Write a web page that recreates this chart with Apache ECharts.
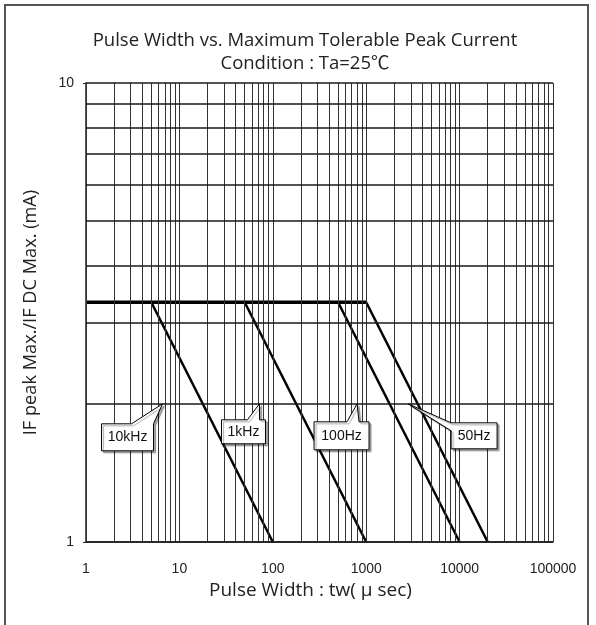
<!DOCTYPE html>
<html>
<head>
<meta charset="utf-8">
<script src="https://cdn.jsdelivr.net/npm/echarts@6/dist/echarts.min.js"></script>
<style>
html, body { margin: 0; padding: 0; background: #fff; }
#wrap { position: relative; width: 596px; height: 625px; overflow: hidden; }
#chart { width: 596px; height: 625px; }
/* outer frame of the figure */
#frame { position: absolute; left: 4px; top: 4px; width: 581px; height: 660px; border: 2px solid #555; pointer-events: none; }
</style>
</head>
<body>
<div id="wrap">
  <div id="chart"></div>
  <div id="frame"></div>
</div>
<script>
// data
const topLevel = 3.33;
const flatLine = [[1, topLevel], [1000, topLevel]];
const line10kHz = [[5, topLevel], [100, 1]];
const line1kHz = [[50, topLevel], [1000, 1]];
const line100Hz = [[500, topLevel], [10000, 1]];
const line50Hz = [[1000, topLevel], [20000, 1]];
const calloutNames = ["10kHz", "1kHz", "100Hz", "50Hz"];
const calloutTips = [[6.6, 2], [72, 2], [798, 2], [2810, 2]];

// grid lines of the log paper
const xGrid = [];
for (let d = 0; d < 5; d++) {
  for (let k = 1; k < 10; k++) xGrid.push(k * Math.pow(10, d));
}
xGrid.push(100000);
const yGrid = [1, 2, 3, 4, 5, 6, 7, 8, 9, 10];

// callout box shapes, pixels relative to the tip: box [x0, x1, y0, y1], wedge side and base
const calloutShapes = [
  { box: [-61, -9, 20, 47], side: "top", base: [-31, -9] },
  { box: [-38, 6, 16, 40], side: "top", base: [-12, 0] },
  { box: [-43, 12, 18, 46], side: "top", base: [-10, 2] },
  { box: [43, 89, 19, 45], side: "left", base: [19, 27] },
];

const tickFont = "'Liberation Sans', Arial, sans-serif";
const nameFont = "'Open Sans', 'Noto Sans CJK JP', sans-serif";

const chart = echarts.init(document.getElementById("chart"));

function curve(data, width) {
  return {
    type: "line",
    data: data,
    z: 3,
    symbol: "none",
    silent: true,
    lineStyle: { color: "#000", width: width },
  };
}

chart.setOption({
  animation: false,
  title: {
    text: "Pulse Width vs. Maximum Tolerable Peak Current\nCondition : Ta=25℃",
    left: 300,
    top: 24,
    textAlign: "center",
    textStyle: {
      fontFamily: nameFont,
      fontSize: 18.5,
      fontWeight: "normal",
      color: "#222",
      lineHeight: 23,
    },
  },
  grid: { left: 86, right: 43, top: 83, bottom: 83 },
  xAxis: {
    type: "log",
    logBase: 10,
    min: 1,
    max: 100000,
    name: "Pulse Width : tw( μ sec)",
    nameLocation: "middle",
    nameGap: 37,
    nameTextStyle: { fontFamily: nameFont, fontSize: 19, color: "#222", padding: [0, 18, 0, 0] },
    axisLine: { lineStyle: { color: "#222", width: 1.5 } },
    axisTick: { show: false },
    splitLine: { show: false },
    axisLabel: {
      margin: 20,
      fontFamily: tickFont,
      fontSize: 14,
      color: "#222",
      formatter: (v) => String(Math.round(v)),
    },
  },
  yAxis: {
    type: "log",
    logBase: 10,
    min: 1,
    max: 10,
    name: "IF peak Max./IF DC Max. (mA)",
    nameLocation: "middle",
    nameGap: 46,
    nameRotate: 90,
    nameTextStyle: { fontFamily: nameFont, fontSize: 18.2, color: "#222" },
    axisLine: { lineStyle: { color: "#222", width: 1.5 } },
    axisTick: { show: true, length: 3, lineStyle: { color: "#222" } },
    splitLine: { show: false },
    axisLabel: {
      margin: 12,
      fontFamily: tickFont,
      fontSize: 14,
      color: "#222",
      formatter: (v) => String(Math.round(v)),
    },
  },
  series: [
    {
      type: "line",
      data: [],
      z: 1,
      silent: true,
      markLine: {
        silent: true,
        symbol: ["none", "none"],
        label: { show: false },
        lineStyle: { color: "#333", width: 1, type: "solid" },
        data: xGrid.map((v) => ({ xAxis: v })),
      },
    },
    {
      type: "line",
      data: [],
      z: 1,
      silent: true,
      markLine: {
        silent: true,
        symbol: ["none", "none"],
        label: { show: false },
        lineStyle: { color: "#1a1a1a", width: 1.6, type: "solid" },
        data: yGrid.map((v) => ({ yAxis: v })),
      },
    },
    curve(flatLine, 3.5),
    curve(line10kHz, 2.5),
    curve(line1kHz, 2.5),
    curve(line100Hz, 2.5),
    curve(line50Hz, 2.5),
  ],
});

// callout labels with pointers
const graphics = [];
calloutNames.forEach((name, i) => {
  const tip = chart.convertToPixel({ gridIndex: 0 }, calloutTips[i]);
  const s = calloutShapes[i];
  const [x0, x1, y0, y1] = s.box.map((v, j) => v + tip[j < 2 ? 0 : 1]);
  const tx = tip[0], ty = tip[1];
  let pts;
  if (s.side === "top") {
    pts = [[x0, y0], [tx + s.base[0], y0], [tx, ty], [tx + s.base[1], y0], [x1, y0], [x1, y1], [x0, y1]];
  } else {
    pts = [[x0, y0], [x1, y0], [x1, y1], [x0, y1], [x0, ty + s.base[1]], [tx, ty], [x0, ty + s.base[0]]];
  }
  graphics.push({
    type: "polygon",
    z: 10,
    silent: true,
    shape: { points: pts },
    style: {
      fill: "#fff",
      stroke: "#000",
      lineWidth: 1,
      shadowColor: "rgba(0,0,0,0.35)",
      shadowBlur: 1,
      shadowOffsetX: 2,
      shadowOffsetY: 2,
    },
  });
  graphics.push({
    type: "text",
    z: 11,
    silent: true,
    x: (x0 + x1) / 2,
    y: (y0 + y1) / 2,
    style: {
      text: name,
      font: "14px " + tickFont,
      fill: "#111",
      align: "center",
      verticalAlign: "middle",
    },
  });
});
chart.setOption({ graphic: graphics });
</script>
</body>
</html>
